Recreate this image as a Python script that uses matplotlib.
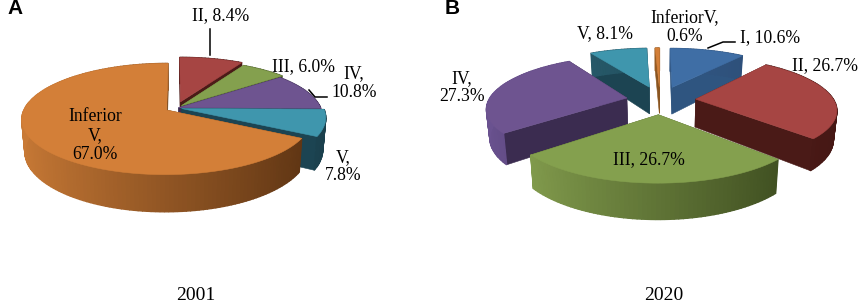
import numpy as np
import matplotlib
matplotlib.use("Agg")
import matplotlib.pyplot as plt

plt.rcParams['font.family'] = ['Liberation Serif']

#valores dos dois paineis
cats_2001 = ["II", "III", "IV", "V", "Inferior V"]
vals_2001 = [8.4, 6.0, 10.8, 7.8, 67.0]
cats_2020 = ["I", "II", "III", "IV", "V", "InferiorV"]
vals_2020 = [10.6, 26.7, 26.7, 27.3, 8.1, 0.6]
year_labels = ["2001", "2020"]

#cor do topo, lateral clara, lateral escura
cores = {
    "I": ("#3f6ea5", "#3a6392", "#2b4c75"),
    "II": ("#a64543", "#5c2320", "#451714"),
    "III": ("#84a04e", "#8aa552", "#35431a"),
    "IV": ("#6e5490", "#6a5290", "#37294b"),
    "V": ("#3f96ad", "#2a6071", "#1a3f4c"),
    "Inferior V": ("#d37f38", "#c97a36", "#5a3212"),
    "InferiorV": ("#d37f38", "#b06a2c", "#7a4a1a"),
}
parede = {"I": "#2f5580", "II": "#4a1a17", "III": "#4a5f28", "IV": "#3b2c50",
          "V": "#1c4452", "Inferior V": "#6b3f17", "InferiorV": "#8a5520"}


def hex2rgb(c):
    return np.array(matplotlib.colors.to_rgb(c))


def proj(u, v, p, baixo=False):
    #perspectiva simples: a parte da frente fica maior
    w = 1 + p["k"] * v
    x = p["cx"] + p["rx"] * u / w
    y = p["cy"] - p["ry"] * v / w
    if baixo:
        x = p["cx"] + (x - p["cx"]) * 0.98
        y = y + p["t"] / w
    return x, y


def pizza(ax, cats, vals, explode, p):
    total = sum(vals)
    ini = 0
    fatias = []
    for c, val, e in zip(cats, vals, explode):
        fim = ini + 360 * val / total
        fatias.append((c, ini, fim, e))
        ini = fim
    #pinta de tras para frente
    fatias.sort(key=lambda f: np.cos(np.radians((f[1] + f[2]) / 2)), reverse=True)
    for c, a0, a1, e in fatias:
        meio = np.radians((a0 + a1) / 2)
        u0 = e * np.sin(meio)
        v0 = e * np.cos(meio)
        ang = np.radians(np.arange(a0, a1, 1.5))
        ang = np.append(ang, np.radians(a1))
        us = u0 + np.sin(ang)
        vs = v0 + np.cos(ang)
        topo, claro, escuro = cores[c]
        # paredes radiais
        for j in [0, -1]:
            xa, ya = proj(u0, v0, p)
            xb, yb = proj(us[j], vs[j], p)
            xc, yc = proj(us[j], vs[j], p, True)
            xd, yd = proj(u0, v0, p, True)
            ax.fill([xa, xb, xc, xd], [ya, yb, yc, yd], color=parede[c], lw=0.4)
        # lateral com gradiente
        for i in range(len(ang) - 1):
            s = (np.sin(ang[i]) + 1) / 2
            cor = hex2rgb(claro) * (1 - s) + hex2rgb(escuro) * s
            x1, y1 = proj(us[i], vs[i], p)
            x2, y2 = proj(us[i + 1], vs[i + 1], p)
            x3, y3 = proj(us[i + 1], vs[i + 1], p, True)
            x4, y4 = proj(us[i], vs[i], p, True)
            ax.fill([x1, x2, x3, x4], [y1, y2, y3, y4], color=cor, lw=1.0)
        # topo
        xt, yt = proj(np.append(u0, us), np.append(v0, vs), p)
        ax.fill(xt, yt, color=topo, lw=0.4)


fig = plt.figure(figsize=(8.58, 3.05), dpi=100)
ax = fig.add_axes([0, 0, 1, 1])
ax.set_xlim(0, 858)
ax.set_ylim(305, 0)
ax.axis("off")

pizza(ax, cats_2001, vals_2001, [0.12, 0.06, 0.02, 0.04, 0.075],
      dict(cx=176, cy=108, rx=142, ry=53.5, k=0.16, t=31))
pizza(ax, cats_2020, vals_2020, [0.28, 0.26, 0.28, 0.245, 0.28, 0.28],
      dict(cx=660, cy=100, rx=138, ry=50, k=0.18, t=28))

#linhas de chamada
ax.plot([210, 210], [29, 55], color="black", lw=1.1)
ax.plot([309, 315, 327], [90, 97, 97], color="black", lw=1.1)
ax.plot([708, 723, 735], [48, 42, 42], color="black", lw=1.1)

fs = 12.7
rot_a = [("II, 8.4%", 221, 16), ("III, 6.0%", 304, 67), ("IV,\n10.8%", 354, 83),
         ("V,\n7.8%", 343, 166.5), ("Inferior\nV,\n67.0%", 95, 135.5)]
rot_b = [("InferiorV,\n0.6%", 685, 27.5), ("V, 8.1%", 605, 34), ("I, 10.6%", 770, 38),
         ("II, 26.7%", 825, 66), ("IV,\n27.3%", 462, 87.5), ("III, 26.7%", 649, 160)]
for txt, x, y in rot_a + rot_b:
    ax.text(x, y, txt, fontsize=fs, ha="center", va="center", color="black",
            linespacing=1.12)

ax.text(196, 300.5, year_labels[0], fontsize=14, ha="center", va="baseline")
ax.text(664, 300.5, year_labels[1], fontsize=14, ha="center", va="baseline")

ax.text(7, 9, "A", fontsize=15, fontweight="bold", family="Liberation Sans", ha="left", va="center")
ax.text(445, 9, "B", fontsize=15, fontweight="bold", family="Liberation Sans", ha="left", va="center")

fig.savefig("out.png", dpi=100)
